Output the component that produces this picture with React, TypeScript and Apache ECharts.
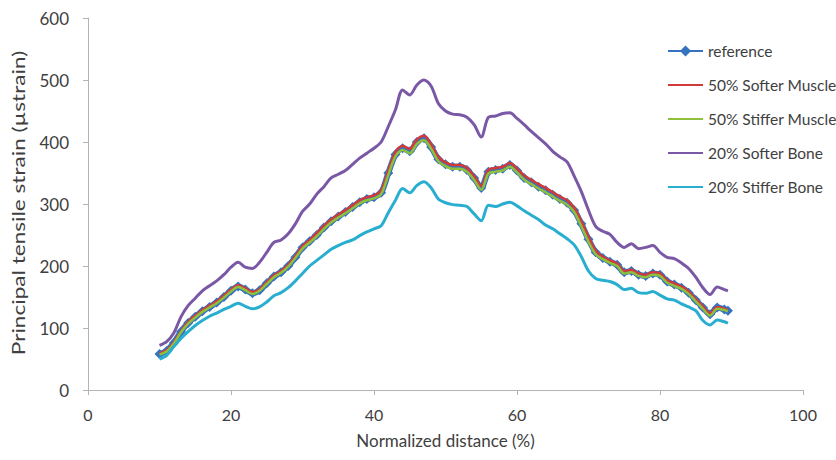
import React, { useEffect, useRef } from "react";
import * as echarts from "echarts";

const distance = [
  10, 11, 12, 13, 14, 15, 16, 17, 18, 19,
  20, 21, 22, 23, 24, 25, 26, 27, 28, 29,
  30, 31, 32, 33, 34, 35, 36, 37, 38, 39,
  40, 41, 42, 43, 44, 45, 46, 47, 48, 49,
  50, 51, 52, 53, 54, 55, 56, 57, 58, 59,
  60, 61, 62, 63, 64, 65, 66, 67, 68, 69,
  70, 71, 72, 73, 74, 75, 76, 77, 78, 79,
  80, 81, 82, 83, 84, 85, 86, 87, 88, 89, 89.5,
];

const reference = [
  58, 63, 76, 94, 108, 118, 127, 134, 141, 150,
  160, 167, 162, 156, 161, 172, 183, 190, 200, 214,
  230, 240, 250, 262, 272, 280, 287, 295, 303, 308,
  311, 318, 350, 380, 390, 385, 400, 406, 392, 372,
  364, 360, 360, 355, 342, 326, 352, 355, 357, 363,
  354, 342, 335, 328, 322, 315, 308, 302, 290, 268,
  243, 222, 213, 207, 202, 190, 192, 186, 184, 188,
  186, 175, 170, 165, 157, 145, 133, 122, 133, 130, 128,
];

const softerMuscle = [
  59, 64, 77, 95, 110, 120, 129, 136, 143, 152,
  162, 169, 164, 158, 163, 174, 185, 192, 202, 216,
  232, 242, 253, 265, 275, 283, 290, 298, 306, 311,
  314, 322, 354, 384, 394, 389, 404, 410, 396, 376,
  367, 363, 363, 358, 345, 329, 355, 358, 360, 366,
  357, 346, 339, 332, 326, 319, 312, 306, 294, 272,
  247, 225, 215, 209, 204, 192, 194, 188, 186, 190,
  188, 177, 172, 167, 159, 147, 135, 124, 134, 131, 129,
];

const stifferMuscle = [
  57, 62, 75, 93, 107, 117, 126, 133, 140, 149,
  159, 166, 161, 155, 160, 171, 182, 189, 199, 213,
  228, 238, 248, 260, 270, 278, 285, 293, 301, 306,
  309, 316, 347, 377, 387, 382, 397, 403, 389, 369,
  361, 357, 357, 352, 339, 323, 349, 352, 354, 360,
  351, 339, 332, 325, 319, 312, 305, 299, 287, 264,
  239, 219, 211, 205, 200, 188, 190, 184, 182, 186,
  184, 173, 168, 163, 155, 143, 131, 120, 131, 129, 127,
];

const softerBone = [
  72, 78, 92, 118, 136, 148, 160, 168, 176, 186,
  198, 206, 198, 196, 206, 222, 238, 242, 252, 268,
  288, 300, 316, 328, 342, 348, 354, 364, 374, 382,
  390, 400, 425, 452, 484, 476, 492, 500, 490, 462,
  450, 445, 444, 440, 428, 408, 440, 442, 446, 447,
  438, 428, 417, 407, 397, 385, 376, 368, 345, 320,
  290, 264, 256, 251, 238, 230, 236, 228, 230, 233,
  222, 214, 212, 205, 196, 182, 165, 154, 166, 162, 160,
];

const stifferBone = [
  50, 56, 70, 83, 94, 104, 112, 119, 124, 130,
  135, 140, 135, 131, 134, 142, 152, 157, 165, 176,
  188, 200, 209, 218, 227, 233, 238, 242, 249, 255,
  260, 265, 286, 306, 325, 318, 330, 336, 326, 308,
  302, 299, 298, 296, 284, 273, 298, 296, 300, 303,
  297, 289, 282, 275, 266, 260, 252, 244, 234, 215,
  192, 180, 177, 175, 170, 162, 164, 157, 156, 159,
  153, 147, 145, 139, 134, 128, 112, 105, 113, 110, 108,
];

const seriesNames = [
  "reference",
  "50% Softer Muscle",
  "50% Stiffer Muscle",
  "20% Softer Bone",
  "20% Stiffer Bone",
];
const colors = ["#3572c0", "#d23a3a", "#8fc03c", "#7a58a6", "#29aed0"];

const yTitle = "Principal tensile strain (µstrain)";
const xTitle = "Normalized distance (%)";

const FONT = "Lato, 'Open Sans', sans-serif";

function pairs(ys: number[]) {
  return ys.map((y, i) => [distance[i], y]);
}

export default function App() {
  const ref = useRef<HTMLDivElement>(null);
  useEffect(() => {
    if (!ref.current) return;
    const chart = echarts.init(ref.current, undefined, { renderer: "svg" });
    const allData = [reference, softerMuscle, stifferMuscle, softerBone, stifferBone];
    chart.setOption({
      animation: false,
      backgroundColor: "#ffffff",
      color: colors,
      grid: { left: 88, right: 33, top: 18, bottom: 70, containLabel: false },
      legend: {
        orient: "vertical",
        left: 662,
        top: 38,
        itemWidth: 35,
        itemHeight: 14,
        itemGap: 18,
        textStyle: { fontFamily: FONT, fontSize: 15.5, color: "#404040" },
        data: seriesNames.map((name, i) =>
          i === 0 ? { name } : { name, itemStyle: { opacity: 0 } }
        ),
      },
      graphic: [
        {
          type: "text",
          x: 18,
          y: 203,
          rotation: Math.PI / 2,
          scaleX: 1.33,
          style: {
            text: yTitle,
            fontFamily: FONT,
            fontSize: 17,
            fill: "#404040",
            align: "center",
            verticalAlign: "middle",
          },
        },
      ],
      xAxis: {
        type: "value",
        min: 0,
        max: 100,
        interval: 20,
        name: xTitle,
        nameLocation: "middle",
        nameGap: 42,
        nameTextStyle: { fontFamily: FONT, fontSize: 17, color: "#404040" },
        axisLine: { show: true, lineStyle: { color: "#b4b4b4", width: 1 } },
        axisTick: { show: true, length: 5, lineStyle: { color: "#b4b4b4" } },
        axisLabel: { fontFamily: FONT, fontSize: 16, color: "#404040", margin: 16 },
        splitLine: { show: false },
      },
      yAxis: {
        type: "value",
        min: 0,
        max: 600,
        interval: 100,
        axisLine: { show: true, lineStyle: { color: "#b4b4b4", width: 1 } },
        axisTick: { show: true, length: 5, lineStyle: { color: "#b4b4b4" } },
        axisLabel: { fontFamily: FONT, fontSize: 17, color: "#404040", margin: 19 },
        splitLine: { show: false },
      },
      series: seriesNames.map((name, i) => ({
        name,
        type: "line",
        data: pairs(allData[i]),
        smooth: 0.3,
        symbol: i === 0 ? "diamond" : "none",
        symbolSize: i === 0 ? 10 : 0,
        showSymbol: i === 0,
        itemStyle: { color: colors[i] },
        lineStyle: { color: colors[i], width: i === 0 ? 6 : i < 3 ? 2.5 : 3 },
        z: 2 + i,
      })),
    });
    return () => chart.dispose();
  }, []);
  return (
    <div
      ref={ref}
      style={{ position: "absolute", left: 0, top: 0, width: 836, height: 460 }}
    />
  );
}
